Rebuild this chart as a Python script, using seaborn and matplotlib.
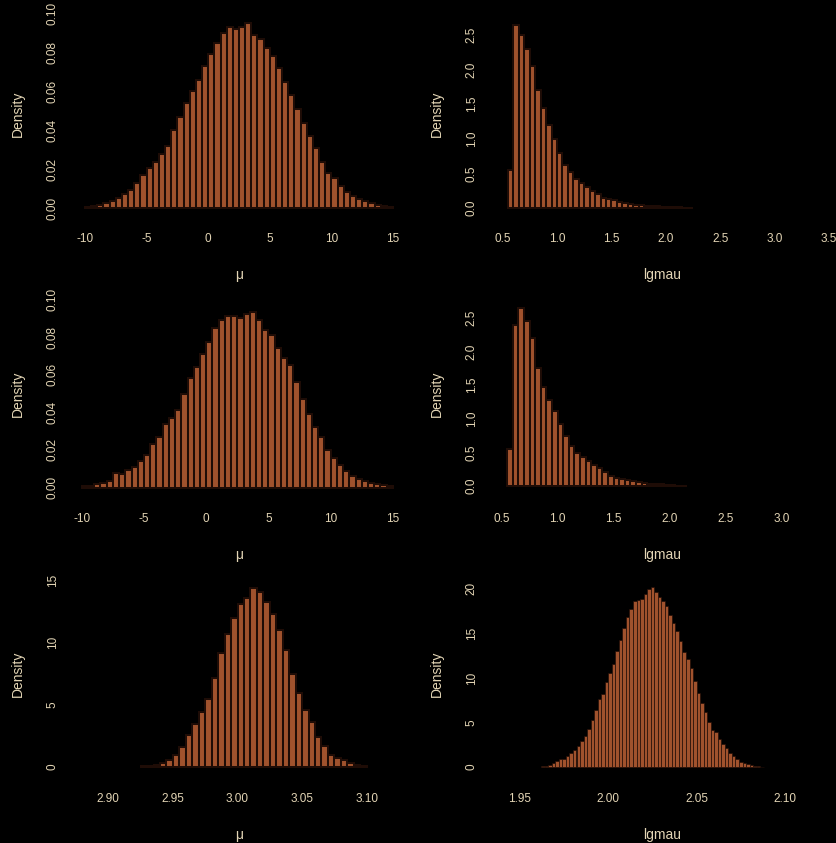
import numpy as np
import pandas as pd
import matplotlib
matplotlib.use("Agg")
import matplotlib.pyplot as plt
from matplotlib.ticker import MultipleLocator, FormatStrFormatter
import seaborn as sns

# ---- posterior sample histograms (density per bin) ----
# first run: mu
mu1_first_edge, mu1_bin_width = -10.0, 0.5
mu1_density = [
    0.0005, 0.0010, 0.0018, 0.0028, 0.0040, 0.0055, 0.0075, 0.0095, 0.0130, 0.0170,
    0.0205, 0.0240, 0.0280, 0.0320, 0.0400, 0.0470, 0.0540, 0.0600, 0.0660, 0.0730,
    0.0790, 0.0850, 0.0900, 0.0930, 0.0920, 0.0930, 0.0950, 0.0890, 0.0870, 0.0820,
    0.0780, 0.0720, 0.0650, 0.0580, 0.0510, 0.0440, 0.0370, 0.0310, 0.0240, 0.0180,
    0.0155, 0.0115, 0.0085, 0.0062, 0.0048, 0.0038, 0.0028, 0.0018, 0.0011, 0.0006,
]

# first run: lgmau
lg1_first_edge, lg1_bin_width = 0.55, 0.05
lg1_density = [
    0.55, 2.65, 2.50, 2.30, 2.05, 1.70, 1.45, 1.20, 1.00, 0.80,
    0.62, 0.52, 0.42, 0.36, 0.30, 0.24, 0.20, 0.15, 0.13, 0.11,
    0.09, 0.07, 0.06, 0.05, 0.04, 0.035, 0.03, 0.025, 0.02, 0.015,
    0.012, 0.010, 0.007, 0.005,
]

# second run: mu
mu2_first_edge, mu2_bin_width = -10.0, 0.5
mu2_density = [
    0.0006, 0.0010, 0.0016, 0.0026, 0.0036, 0.0078, 0.0070, 0.0095, 0.0110, 0.0140,
    0.0175, 0.0230, 0.0270, 0.0340, 0.0370, 0.0410, 0.0500, 0.0580, 0.0640, 0.0710,
    0.0775, 0.0850, 0.0890, 0.0910, 0.0910, 0.0900, 0.0925, 0.0935, 0.0890, 0.0840,
    0.0810, 0.0740, 0.0690, 0.0650, 0.0560, 0.0470, 0.0390, 0.0320, 0.0270, 0.0200,
    0.0155, 0.0120, 0.0086, 0.0060, 0.0043, 0.0034, 0.0026, 0.0017, 0.0012, 0.0006,
]

# second run: lgmau
lg2_first_edge, lg2_bin_width = 0.55, 0.05
lg2_density = [
    0.55, 2.40, 2.65, 2.45, 2.20, 1.75, 1.48, 1.28, 1.12, 0.93,
    0.75, 0.60, 0.50, 0.43, 0.37, 0.31, 0.27, 0.21, 0.15, 0.12,
    0.10, 0.095, 0.07, 0.06, 0.05, 0.04, 0.035, 0.027, 0.02, 0.015,
    0.010, 0.006,
]

# third run: mu
mu3_first_edge, mu3_bin_width = 2.925, 0.005
mu3_density = [
    0.08, 0.10, 0.18, 0.35, 0.60, 0.95, 1.60, 2.60, 3.50, 4.40,
    5.50, 7.20, 9.20, 10.70, 12.00, 13.10, 13.60, 14.40, 14.10, 13.30,
    12.30, 11.00, 9.40, 7.50, 6.00, 4.60, 3.60, 2.40, 1.70, 1.00,
    0.75, 0.55, 0.30, 0.15, 0.07,
]

# third run: lgmau
lg3_first_edge, lg3_bin_width = 1.962, 0.002
lg3_density = [
    0.10, 0.15, 0.25, 0.45, 0.70, 0.85, 0.95, 1.20, 1.55, 1.95,
    2.40, 2.90, 3.45, 4.30, 5.30, 6.40, 7.60, 8.20, 9.50, 10.60,
    11.60, 13.00, 14.30, 15.60, 16.80, 17.70, 18.60, 18.70, 18.90, 19.40,
    20.00, 20.20, 19.60, 19.10, 18.60, 18.10, 17.10, 16.20, 15.30, 14.10,
    12.90, 12.10, 11.10, 9.70, 8.30, 7.20, 6.20, 5.00, 4.20, 3.90,
    3.20, 2.60, 2.10, 1.60, 1.20, 0.85, 0.60, 0.48, 0.35, 0.25,
    0.16, 0.10, 0.05,
]

x_labels = ["\u03bc", "lgmau"]

# ---- styling ----
FG = "#e3d5b5"
FILL = "#a0522d"
EDGE = "#1e0c06"

sns.set_style("dark")
plt.rcParams.update({
    "font.family": ["Liberation Sans", "DejaVu Sans"],
    "axes.unicode_minus": False,
    "figure.facecolor": "black",
    "axes.facecolor": "black",
    "savefig.facecolor": "black",
})

W, H = 837, 843
fig = plt.figure(figsize=(W / 100, H / 100), dpi=100)

# (density, first edge, width, label, xlim, ylim, xstep, xfmt, ystep, yfmt, column, row)
panels = [
    (mu1_density, mu1_first_edge, mu1_bin_width, x_labels[0],
     (-11.055, 16.055), (-0.00395, 0.1007), 5, "%d", 0.02, "%.2f", 0, 0),
    (lg1_density, lg1_first_edge, lg1_bin_width, x_labels[1],
     (0.394, 3.535), (-0.1156, 2.832), 0.5, "%.1f", 0.5, "%.1f", 1, 0),
    (mu2_density, mu2_first_edge, mu2_bin_width, x_labels[0],
     (-10.78, 16.05), (-0.00452, 0.104), 5, "%d", 0.02, "%.2f", 0, 1),
    (lg2_density, lg2_first_edge, lg2_bin_width, x_labels[1],
     (0.4045, 3.458), (-0.1455, 2.883), 0.5, "%.1f", 0.5, "%.1f", 1, 1),
    (mu3_density, mu3_first_edge, mu3_bin_width, x_labels[0],
     (2.8719, 3.1304), (-0.72, 15.7), 0.05, "%.2f", 5, "%d", 0, 2),
    (lg3_density, lg3_first_edge, lg3_bin_width, x_labels[1],
     (1.9336, 2.1272), (-1.01, 21.9), 0.05, "%.2f", 5, "%d", 1, 2),
]

col_x = [(72, 334), (491, 342)]
row_off = [0, 280, 560]
top_pad, bottom_pad = 12, 216

for dens, first, width, xlab, xlim, ylim, xstep, xfmt, ystep, yfmt, col, row in panels:
    x0, aw = col_x[col]
    y_top = row_off[row] + top_pad
    ah = bottom_pad - top_pad
    ax = fig.add_axes([x0 / W, 1 - (y_top + ah) / H, aw / W, ah / H])
    ax.set_facecolor("black")

    # bar outline thickness: narrow bins get a hairline so the fill stays visible
    bin_px = width * aw / (xlim[1] - xlim[0])
    edge_pt = 1.45 if bin_px > 5 else 0.45

    n = len(dens)
    centers = first + width * (np.arange(n) + 0.5)
    df = pd.DataFrame({"value": centers, "density": dens})
    sns.histplot(data=df, x="value", weights="density",
                 binwidth=width, binrange=(first, first + width * n),
                 stat="count", color=FILL, edgecolor=EDGE, linewidth=edge_pt,
                 alpha=1.0, ax=ax)

    ax.set_xlim(*xlim)
    ax.set_ylim(*ylim)
    for s in ax.spines.values():
        s.set_visible(False)
    ax.grid(False)

    ax.xaxis.set_major_locator(MultipleLocator(xstep))
    ax.xaxis.set_major_formatter(FormatStrFormatter(xfmt))
    ax.yaxis.set_major_locator(MultipleLocator(ystep))
    ax.yaxis.set_major_formatter(FormatStrFormatter(yfmt))
    ax.tick_params(axis="x", length=0, pad=12.5, labelsize=8.5, labelcolor=FG)
    ax.tick_params(axis="y", length=0, pad=9.5, labelsize=8.5, labelcolor=FG,
                   labelrotation=90)
    for t in ax.get_yticklabels():
        t.set_va("center")

    ax.set_xlabel(xlab, color=FG, fontsize=10)
    ax.xaxis.label.set_va("center")
    ax.xaxis.set_label_coords(0.5, -59 / ah)
    ax.set_ylabel("Density", color=FG, fontsize=10)
    ax.yaxis.label.set_va("center")
    ax.yaxis.set_label_coords(-54 / aw, 0.5)

fig.savefig("out.png", dpi=100, facecolor="black")
